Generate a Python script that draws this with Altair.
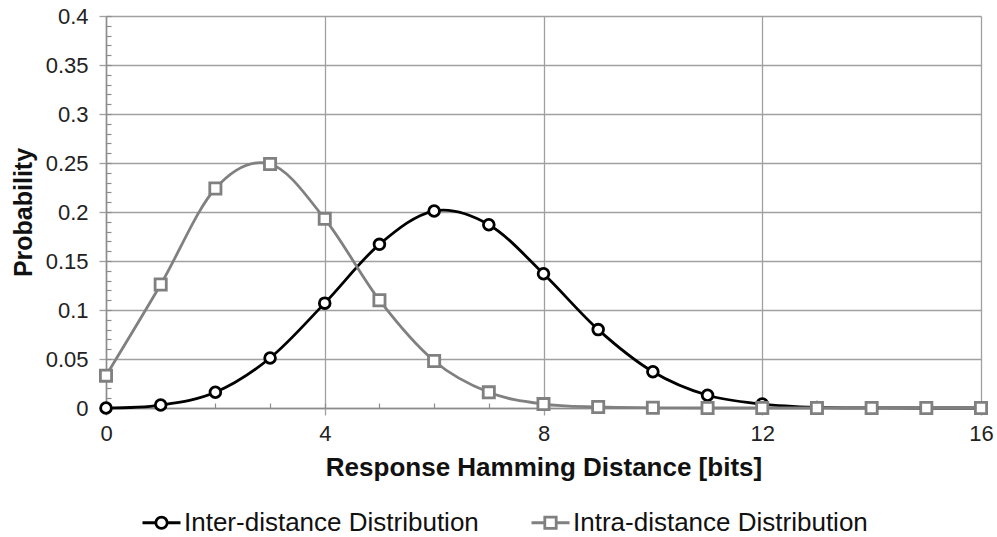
import altair as alt
import pandas as pd

distance = list(range(17))
inter_values = [0.0, 0.003, 0.016, 0.051, 0.107, 0.167, 0.201, 0.187, 0.137,
                0.080, 0.037, 0.013, 0.004, 0.0006, 0.0001, 0.0, 0.0]
intra_values = [0.033, 0.126, 0.224, 0.249, 0.193, 0.110, 0.048, 0.016, 0.004,
                0.001, 0.0002, 0.0, 0.0, 0.0, 0.0, 0.0, 0.0]
series_names = ["Inter-distance Distribution", "Intra-distance Distribution"]
series_colors = ["#000000", "#808080"]
x_major = [0, 4, 8, 12, 16]
x_minor = list(range(17))
y_major = [0, 0.05, 0.1, 0.15, 0.2, 0.25, 0.3, 0.35, 0.4]
y_minor = [round(i * 0.01, 2) for i in range(41)]

rows = []
for name, vals in zip(series_names, [inter_values, intra_values]):
    for d, v in zip(distance, vals):
        rows.append({"distance": d, "prob": v, "series": name})
df = pd.DataFrame(rows)

FONT = "Liberation Sans"
GRID = "#a0a0a0"

stroke_scale = alt.Scale(domain=series_names, range=series_colors)
legend_shapes = [
    "M-1,0L-0.3,0M0.3,0L1,0M-0.3,0A0.3,0.3 0 1,1 0.3,0A0.3,0.3 0 1,1 -0.3,0Z",
    "M-1,0L-0.3,0M0.3,0L1,0M-0.3,-0.3L0.3,-0.3L0.3,0.3L-0.3,0.3Z",
]

x_scale = alt.Scale(domain=[0, 16], nice=False)
y_scale = alt.Scale(domain=[0, 0.4], nice=False)

lines = alt.Chart(df).mark_line(interpolate="cardinal", strokeWidth=2.8).encode(
    x=alt.X("distance:Q", scale=x_scale, axis=alt.Axis(
        values=x_major, grid=True, gridColor=GRID, gridWidth=1.3,
        tickSize=7, tickColor=GRID, tickWidth=1.3,
        domainColor="#8c8c8c", domainWidth=1.5, labelFlush=False,
        labelFont=FONT, labelFontSize=22, labelColor="#222222", labelPadding=8,
        title="Response Hamming Distance [bits]", titleFont=FONT,
        titleFontSize=26, titleFontWeight="bold", titleColor="#111111",
        titlePadding=10)),
    y=alt.Y("prob:Q", scale=y_scale, axis=alt.Axis(
        values=y_major, format="~g", grid=True, gridColor=GRID, gridWidth=1.3,
        tickSize=7, tickColor=GRID, tickWidth=1.3, labelFlush=False,
        domainColor="#8c8c8c", domainWidth=1.5,
        labelFont=FONT, labelFontSize=22, labelColor="#222222", labelPadding=11,
        title="Probability", titleFont=FONT, titleFontSize=25,
        titleFontWeight="bold", titleColor="#111111", titlePadding=9)),
    stroke=alt.Stroke("series:N", scale=stroke_scale, legend=None),
    detail="series:N",
)

points = alt.Chart(df).mark_point(filled=False, fill="white", strokeWidth=2.8, opacity=1).encode(
    x=alt.X("distance:Q", scale=x_scale, axis=alt.Axis(
        orient="top", offset=-392, values=x_minor, labels=False, grid=False,
        domain=False, tickSize=5, tickColor="#8c8c8c", tickWidth=1.2, title=None)),
    y=alt.Y("prob:Q", scale=y_scale, axis=alt.Axis(
        orient="right", offset=-875, values=y_minor, labels=False, grid=False,
        domain=False, tickSize=5, tickColor="#8c8c8c", tickWidth=1.2, title=None)),
    stroke=alt.Stroke("series:N", scale=stroke_scale, legend=None),
    shape=alt.Shape("series:N", scale=alt.Scale(domain=series_names, range=["circle", "square"]), legend=None),
    size=alt.Size("series:N", scale=alt.Scale(domain=series_names, range=[115, 125]), legend=None),
)

legend_layer = alt.Chart(df).mark_point(filled=False, fill="white", strokeWidth=2.8, opacity=0).encode(
    x=alt.X("distance:Q", scale=x_scale, axis=None),
    y=alt.Y("prob:Q", scale=y_scale, axis=None),
    stroke=alt.Stroke("series:N", scale=stroke_scale, legend=alt.Legend(
        title=None, orient="none", direction="horizontal", legendX=35, legendY=486,
        labelFont=FONT, labelFontSize=26, labelLimit=0,
        labelColor="#111111", symbolSize=1444, symbolStrokeWidth=2.8,
        symbolFillColor="white", symbolOpacity=1, columnPadding=46,
        labelOffset=2, symbolOffset=0)),
    shape=alt.Shape("series:N", scale=alt.Scale(domain=series_names, range=legend_shapes)),
)

chart = alt.layer(lines, points, legend_layer).resolve_axis(
    x="independent", y="independent"
).resolve_scale(
    x="shared", y="shared", stroke="independent", shape="independent"
).properties(
    width=875, height=392,
    autosize=alt.AutoSizeParams(type="none"),
    padding={"left": 106, "top": 16, "right": 16, "bottom": 129},
    background="white",
).configure_view(stroke=None)

chart.save("out.html", embed_options={"renderer": "svg", "actions": False})
